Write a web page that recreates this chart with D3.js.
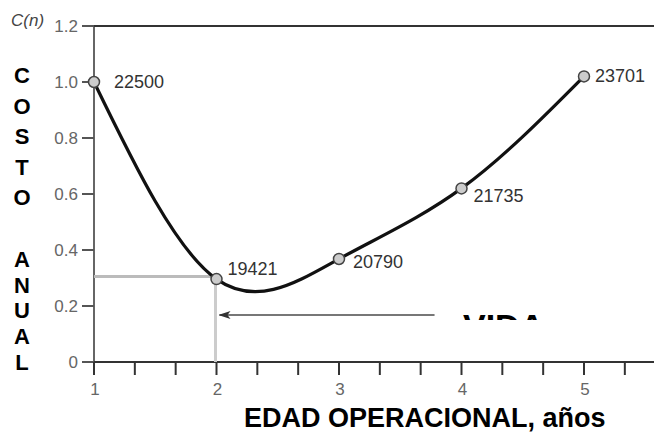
<!DOCTYPE html>
<html lang="es">
<head>
<meta charset="UTF-8">
<script src="https://d3js.org/d3.v7.min.js"></script>
<style>
  body { margin: 0; background: #fff; }
  text { font-family: Arial, "Liberation Sans", sans-serif; }
</style>
</head>
<body>
<div id="chart"></div>
<script>
// data
var years = [1, 2, 3, 4, 5];
var costIndex = [1.0, 0.296, 0.368, 0.62, 1.02];
var costLabels = ["22500", "19421", "20790", "21735", "23701"];
var yTicks = [0, 0.2, 0.4, 0.6, 0.8, 1.0, 1.2];
var xLabelTicks = [1, 2, 3, 4, 5];
var yTitle1 = ["C", "O", "S", "T", "O"];
var yTitle2 = ["A", "N", "U", "A", "L"];

// label offsets per point (dx, dy)
var labelOffset = [[20, 6], [11, -4], [14, 9], [12, 14], [11, 6]];

var W = 654, H = 433;
var svg = d3.select("#chart").append("svg")
  .attr("width", W).attr("height", H);

var x = d3.scaleLinear().domain([1, 5]).range([94, 584]);
var y = d3.scaleLinear().domain([0, 1.2]).range([362, 26]);

// axes
svg.append("line")
  .attr("x1", x(1)).attr("x2", x(1))
  .attr("y1", y(1.2)).attr("y2", y(0))
  .attr("stroke", "#666").attr("stroke-width", 2);

svg.append("line")
  .attr("x1", x(1) - 12).attr("x2", W)
  .attr("y1", y(1.2)).attr("y2", y(1.2))
  .attr("stroke", "#333").attr("stroke-width", 2);

svg.append("line")
  .attr("x1", x(1) - 12).attr("x2", W)
  .attr("y1", y(0)).attr("y2", y(0))
  .attr("stroke", "#333").attr("stroke-width", 2);

// y ticks
svg.selectAll(".ytick")
  .data(yTicks)
  .enter().append("line")
    .attr("x1", x(1) - 12).attr("x2", x(1))
    .attr("y1", function(d) { return y(d); })
    .attr("y2", function(d) { return y(d); })
    .attr("stroke", "#555").attr("stroke-width", 2);

svg.selectAll(".ylab")
  .data(yTicks)
  .enter().append("text")
    .attr("x", 78)
    .attr("y", function(d) { return y(d) + 6; })
    .attr("text-anchor", "end")
    .attr("font-size", "17px")
    .attr("fill", "#666")
    .text(function(d) { return d === 0 ? "0" : d.toFixed(1); });

// x ticks every third of a year
var xMinor = d3.range(0, 14).map(function(i) { return 1 + i / 3; })
  .filter(function(d) { return x(d) < W; });
svg.selectAll(".xtick")
  .data(xMinor)
  .enter().append("line")
    .attr("x1", function(d) { return x(d); })
    .attr("x2", function(d) { return x(d); })
    .attr("y1", y(0)).attr("y2", y(0) + 13)
    .attr("stroke", "#333").attr("stroke-width", 2);

svg.selectAll(".xlab")
  .data(xLabelTicks)
  .enter().append("text")
    .attr("x", function(d) { return x(d) + 1; })
    .attr("y", 395)
    .attr("text-anchor", "middle")
    .attr("font-size", "17px")
    .attr("fill", "#666")
    .text(function(d) { return d; });

// guide lines at year 2
svg.append("line")
  .attr("x1", x(1)).attr("x2", x(2))
  .attr("y1", y(0.305)).attr("y2", y(0.305))
  .attr("stroke", "#bbb").attr("stroke-width", 3);
svg.append("line")
  .attr("x1", x(2) - 1).attr("x2", x(2) - 1)
  .attr("y1", y(0.29)).attr("y2", y(0))
  .attr("stroke", "#ccc").attr("stroke-width", 3);

// arrow
svg.append("defs").append("marker")
  .attr("id", "arr")
  .attr("viewBox", "0 0 12 10")
  .attr("refX", 11).attr("refY", 5)
  .attr("markerWidth", 6).attr("markerHeight", 5)
  .attr("markerUnits", "strokeWidth")
  .attr("orient", "auto")
  .append("path").attr("d", "M0,1 L12,5 L0,9 L3,5 Z").attr("fill", "#333");

svg.append("line")
  .attr("x1", x(3.78)).attr("x2", x(2) + 3)
  .attr("y1", y(0.168)).attr("y2", y(0.168))
  .attr("stroke", "#777").attr("stroke-width", 2)
  .attr("marker-end", "url(#arr)");

// cost curve
var pts = years.map(function(d, i) { return [d, costIndex[i]]; });
var line = d3.line()
  .x(function(d) { return x(d[0]); })
  .y(function(d) { return y(d[1]); })
  .curve(d3.curveNatural);

svg.append("path")
  .datum(pts)
  .attr("d", line)
  .attr("fill", "none")
  .attr("stroke", "#111")
  .attr("stroke-width", 3.2);

svg.selectAll(".pt")
  .data(pts)
  .enter().append("circle")
    .attr("cx", function(d) { return x(d[0]); })
    .attr("cy", function(d) { return y(d[1]); })
    .attr("r", 5.5)
    .attr("fill", "#ccc")
    .attr("stroke", "#444")
    .attr("stroke-width", 1.5);

svg.selectAll(".plab")
  .data(pts)
  .enter().append("text")
    .attr("x", function(d, i) { return x(d[0]) + labelOffset[i][0]; })
    .attr("y", function(d, i) { return y(d[1]) + labelOffset[i][1]; })
    .attr("font-size", "18px")
    .attr("fill", "#333")
    .text(function(d, i) { return costLabels[i]; });

// VIDA box, text cut off by its own box
svg.append("clipPath").attr("id", "vidaClip")
  .append("rect").attr("x", 445).attr("y", 296).attr("width", 185).attr("height", 24);
svg.append("rect")
  .attr("x", 445).attr("y", 296).attr("width", 185).attr("height", 31)
  .attr("fill", "#fff");
svg.append("text")
  .attr("x", 463).attr("y", 338)
  .attr("font-size", "34px")
  .attr("font-weight", "bold")
  .attr("fill", "#000")
  .attr("clip-path", "url(#vidaClip)")
  .text("VIDA");

// C(n)
var cn = svg.append("text")
  .attr("x", 11).attr("y", 26)
  .attr("font-size", "17px")
  .attr("font-style", "italic")
  .attr("fill", "#444");
cn.append("tspan").text("C(");
cn.append("tspan").text("n");
cn.append("tspan").text(")");

// vertical y title
svg.selectAll(".yt1")
  .data(yTitle1)
  .enter().append("text")
    .attr("x", 22)
    .attr("y", function(d, i) { return 83 + i * 30.5; })
    .attr("text-anchor", "middle")
    .attr("font-size", "22px")
    .attr("font-weight", "bold")
    .text(function(d) { return d; });

svg.selectAll(".yt2")
  .data(yTitle2)
  .enter().append("text")
    .attr("x", 22)
    .attr("y", function(d, i) { return 267 + i * 25.7; })
    .attr("text-anchor", "middle")
    .attr("font-size", "22px")
    .attr("font-weight", "bold")
    .text(function(d) { return d; });

// x title
svg.append("text")
  .attr("x", 244).attr("y", 427)
  .attr("font-size", "27px")
  .attr("font-weight", "bold")
  .text("EDAD OPERACIONAL, años");
</script>
</body>
</html>
